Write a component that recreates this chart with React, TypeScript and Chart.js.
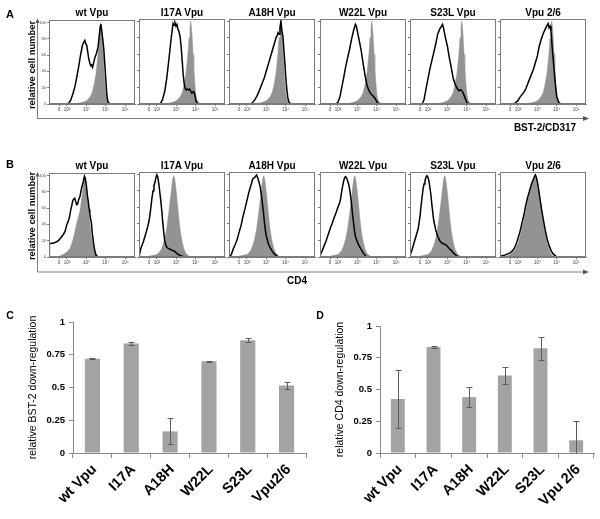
import React, { useEffect, useRef } from 'react';
import { Chart, registerables } from 'chart.js';
Chart.register(...registerables);

const FONT = "'Liberation Sans', Arial, Helvetica, sans-serif";

// ---------- Histogram panels (A: BST-2/CD317, B: CD4) ----------
const panelTitles = ['wt Vpu', 'I17A Vpu', 'A18H Vpu', 'W22L Vpu', 'S23L Vpu', 'Vpu 2/6'];
// x position in decades of fluorescence (biexponential display); "0" sits at 1.6
const histTickValues = [1.6, 2, 3, 4, 5];
const histTickLabels = ['0', '10²', '10³', '10⁴', '10⁵'];
const countTicks = [0, 20, 40, 60, 80, 100];

// Row A: control (gray, filled)
const grayA = [[2.4,0],[2.6,1],[2.8,2],[3.0,4],[3.1,6],[3.2,9],[3.3,14],[3.4,24],[3.5,38],[3.6,62],[3.65,80],[3.7,93],[3.74,100],[3.78,92],[3.82,78],[3.86,60],[3.9,44],[3.95,26],[4.0,12],[4.05,6],[4.1,3],[4.2,1],[4.3,0]];
// Row A: Vpu variants (black line)
const blackA_wt = [[1.05,0],[2.0,0],[2.1,1],[2.2,5],[2.3,12],[2.4,20],[2.5,32],[2.6,45],[2.7,60],[2.8,72],[2.87,76],[2.92,78],[2.97,74],[3.02,72],[3.07,64],[3.12,56],[3.18,50],[3.22,47],[3.27,48],[3.32,45],[3.37,50],[3.45,58],[3.52,62],[3.6,70],[3.67,85],[3.72,96],[3.75,98],[3.8,88],[3.85,78],[3.9,66],[3.95,48],[4.0,30],[4.05,12],[4.1,3],[4.2,0],[5.55,0]];
const blackA_i17a = [[1.05,0],[2.1,0],[2.2,1],[2.3,6],[2.4,15],[2.5,30],[2.6,50],[2.7,72],[2.78,88],[2.83,97],[2.88,95],[2.93,98],[2.98,94],[3.03,96],[3.08,90],[3.13,88],[3.2,80],[3.25,68],[3.3,52],[3.35,36],[3.4,25],[3.45,19],[3.5,17],[3.56,18],[3.62,17],[3.68,18],[3.75,15],[3.8,13],[3.87,15],[3.92,14],[3.97,8],[4.02,3],[4.1,0],[5.55,0]];
const blackA_a18h = [[1.05,0],[2.2,0],[2.3,2],[2.4,5],[2.5,9],[2.6,14],[2.7,20],[2.8,26],[2.9,32],[3.0,40],[3.1,48],[3.2,56],[3.3,64],[3.4,72],[3.5,80],[3.55,82],[3.6,86],[3.65,84],[3.7,92],[3.75,100],[3.8,88],[3.85,82],[3.9,66],[3.95,50],[4.0,32],[4.05,18],[4.1,8],[4.15,3],[4.25,0],[5.55,0]];
const blackA_w22l = [[1.05,0],[1.9,0],[2.0,2],[2.1,8],[2.2,20],[2.3,32],[2.4,45],[2.5,56],[2.6,66],[2.7,78],[2.8,88],[2.85,92],[2.9,96],[2.95,94],[3.0,88],[3.05,82],[3.1,76],[3.2,64],[3.3,48],[3.4,34],[3.5,22],[3.6,16],[3.7,12],[3.8,10],[3.9,7],[4.0,3],[4.1,0],[5.55,0]];
const blackA_s23l = [[1.05,0],[1.7,0],[1.8,5],[1.9,18],[2.0,30],[2.1,42],[2.2,52],[2.3,62],[2.4,72],[2.5,84],[2.6,90],[2.7,94],[2.75,96],[2.8,92],[2.9,80],[3.0,70],[3.1,56],[3.2,44],[3.3,31],[3.4,24],[3.5,19],[3.6,16],[3.7,17],[3.8,14],[3.9,8],[4.0,2],[4.1,0],[5.55,0]];
const blackA_26 = [[1.05,0],[1.8,0],[2.0,4],[2.1,8],[2.2,11],[2.3,14],[2.4,18],[2.5,24],[2.6,30],[2.7,36],[2.8,42],[2.9,50],[3.0,58],[3.1,70],[3.2,78],[3.3,85],[3.4,90],[3.5,95],[3.55,97],[3.6,92],[3.65,94],[3.7,88],[3.75,72],[3.8,58],[3.85,44],[3.9,30],[3.95,18],[4.0,8],[4.1,2],[4.2,0],[5.55,0]];

// Row B: controls (gray, filled)
const grayB_wt = [[1.6,1],[1.8,3],[2.0,6],[2.15,10],[2.3,20],[2.4,30],[2.5,41],[2.6,50],[2.67,56],[2.75,70],[2.85,88],[2.92,100],[3.0,86],[3.1,64],[3.18,42],[3.26,26],[3.35,14],[3.45,6],[3.53,3],[3.65,0]];
const grayB = [[1.6,1],[1.8,2],[2.0,3],[2.1,5],[2.2,8],[2.3,14],[2.4,22],[2.5,34],[2.6,52],[2.7,72],[2.75,82],[2.8,92],[2.85,98],[2.9,96],[2.95,88],[3.0,78],[3.05,66],[3.1,54],[3.15,42],[3.2,32],[3.3,18],[3.4,9],[3.5,4],[3.6,2],[3.7,0]];
const grayB_26 = [[1.4,1],[1.6,3],[1.8,7],[2.0,16],[2.1,24],[2.2,34],[2.3,44],[2.4,56],[2.5,68],[2.6,78],[2.7,86],[2.8,93],[2.9,100],[2.95,97],[3.0,90],[3.1,74],[3.2,58],[3.3,42],[3.4,28],[3.5,17],[3.6,9],[3.7,4],[3.8,1],[3.9,0]];
// Row B: Vpu variants (black line)
const blackB_wt = [[1.08,2],[1.1,16],[1.2,17],[1.3,17],[1.4,18],[1.5,19],[1.6,21],[1.7,24],[1.8,27],[1.9,31],[2.0,40],[2.1,46],[2.15,51],[2.2,58],[2.25,63],[2.3,69],[2.35,71],[2.4,72],[2.45,68],[2.5,64],[2.55,65],[2.6,70],[2.67,74],[2.75,84],[2.84,92],[2.9,99],[2.95,96],[3.0,88],[3.05,76],[3.1,68],[3.15,58],[3.18,53],[3.22,46],[3.26,42],[3.3,30],[3.35,21],[3.4,12],[3.45,6],[3.5,2],[3.6,0],[5.55,0]];
const blackB_i17a = [[1.08,0],[1.1,2],[1.15,8],[1.2,12],[1.3,18],[1.4,26],[1.5,34],[1.6,44],[1.65,52],[1.7,62],[1.75,72],[1.8,80],[1.85,86],[1.9,90],[1.95,96],[2.0,99],[2.05,96],[2.1,88],[2.15,78],[2.2,68],[2.25,56],[2.3,42],[2.35,30],[2.4,20],[2.45,15],[2.5,12],[2.6,10],[2.7,9],[2.8,8],[2.9,7],[3.0,5],[3.1,3],[3.2,2],[3.3,1],[3.4,0],[5.55,0]];
const blackB_a18h = [[1.08,0],[1.2,3],[1.3,10],[1.4,15],[1.5,21],[1.6,30],[1.7,38],[1.8,49],[1.9,58],[2.0,68],[2.1,78],[2.2,86],[2.3,94],[2.4,96],[2.5,99],[2.55,96],[2.6,92],[2.67,86],[2.75,74],[2.8,64],[2.85,54],[2.9,42],[2.95,32],[3.0,25],[3.1,16],[3.2,11],[3.3,7],[3.4,4],[3.5,2],[3.6,0],[5.55,0]];
const blackB_w22l = [[1.08,0],[1.1,3],[1.2,8],[1.3,14],[1.4,20],[1.5,27],[1.6,34],[1.7,40],[1.8,47],[1.9,53],[2.0,60],[2.1,66],[2.15,72],[2.2,80],[2.25,86],[2.3,92],[2.35,96],[2.4,97],[2.45,95],[2.5,92],[2.55,88],[2.6,82],[2.65,74],[2.7,64],[2.75,52],[2.8,42],[2.85,32],[2.9,25],[3.0,18],[3.1,13],[3.2,9],[3.3,5],[3.4,2],[3.5,0],[5.55,0]];
const blackB_s23l = [[1.08,0],[1.1,3],[1.2,10],[1.3,18],[1.4,26],[1.5,34],[1.6,50],[1.65,62],[1.7,72],[1.75,82],[1.8,88],[1.85,92],[1.9,96],[1.95,98],[2.0,96],[2.05,92],[2.1,84],[2.15,76],[2.2,64],[2.25,54],[2.3,44],[2.4,33],[2.5,25],[2.6,20],[2.7,17],[2.8,16],[2.9,15],[3.0,13],[3.1,10],[3.2,8],[3.3,5],[3.4,3],[3.5,1],[3.6,0],[5.55,0]];
const blackB_26 = [[1.08,0],[1.1,1],[1.3,2],[1.5,4],[1.6,5],[1.7,7],[1.8,10],[1.9,15],[2.0,22],[2.1,30],[2.2,40],[2.3,50],[2.4,62],[2.5,72],[2.6,80],[2.7,88],[2.8,94],[2.85,97],[2.9,99],[2.95,96],[3.0,91],[3.05,84],[3.1,76],[3.2,60],[3.3,46],[3.4,33],[3.5,22],[3.6,14],[3.7,8],[3.8,4],[3.9,2],[4.0,0],[5.55,0]];

const rowAGray = [grayA, grayA, grayA, grayA, grayA, grayA];
const rowABlack = [blackA_wt, blackA_i17a, blackA_a18h, blackA_w22l, blackA_s23l, blackA_26];
const rowBGray = [grayB_wt, grayB, grayB, grayB, grayB, grayB_26];
const rowBBlack = [blackB_wt, blackB_i17a, blackB_a18h, blackB_w22l, blackB_s23l, blackB_26];

// ---------- Bar panels (C, D) ----------
const bstCategories = ['wt Vpu', 'I17A', 'A18H', 'W22L', 'S23L', 'Vpu2/6'];
const bstValues = [0.72, 0.835, 0.165, 0.70, 0.86, 0.515];
const bstErrors = [0.005, 0.012, 0.1, 0.004, 0.015, 0.03];
const cd4Categories = ['wt Vpu', 'I17A', 'A18H', 'W22L', 'S23L', 'Vpu 2/6'];
const cd4Values = [0.425, 0.835, 0.44, 0.61, 0.825, 0.10];
const cd4Errors = [0.225, 0.01, 0.08, 0.07, 0.09, 0.155];
const barTicks = [0, 0.25, 0.5, 0.75, 1];

// ---------- layout ----------
const boxLefts = [49, 139, 229, 320, 410, 500];
const BOX_W = 86;
const BOX_H = 85;
const rowTops = [19, 172];

const boxPlugin = {
  id: 'box',
  afterDraw(chart: any) {
    const { ctx, chartArea: a } = chart;
    ctx.save();
    ctx.strokeStyle = '#7c7c7c';
    ctx.lineWidth = 1;
    ctx.strokeRect(Math.round(a.left) + 0.5, Math.round(a.top) + 0.5, Math.round(a.right - a.left) - 1, Math.round(a.bottom - a.top) - 1);
    ctx.restore();
  },
};

function histConfig(gray: number[][], black: number[][], showY: boolean) {
  const pts = (arr: number[][]) => arr.map(([x, y]) => ({ x, y }));
  return {
    type: 'line',
    data: {
      datasets: [
        { data: pts(black), borderColor: '#000', borderWidth: 1.5, pointRadius: 0, fill: false, order: 0, tension: 0 },
        { data: pts(gray), borderColor: '#959595', borderWidth: 0.5, backgroundColor: '#939393', pointRadius: 0, fill: 'origin', order: 1, tension: 0 },
      ],
    },
    options: {
      responsive: false,
      animation: false,
      events: [],
      layout: { padding: { top: 2, right: 3, left: 0, bottom: 0 } },
      plugins: { legend: { display: false }, tooltip: { enabled: false } },
      scales: {
        x: {
          type: 'linear',
          min: 1.08,
          max: 5.5,
          afterBuildTicks: (s: any) => { s.ticks = histTickValues.map((v) => ({ value: v })); },
          afterFit: (s: any) => { s.height = 11; },
          ticks: {
            callback: (v: number) => { const i = histTickValues.indexOf(v); return i >= 0 ? histTickLabels[i] : ''; },
            font: { size: 4.5, family: FONT },
            color: '#444',
            padding: 1,
            maxRotation: 0,
            autoSkip: false,
          },
          grid: { drawOnChartArea: false, tickLength: 2, color: '#777' },
          border: { color: '#7c7c7c' },
        },
        y: {
          min: 0,
          max: 102.5,
          afterBuildTicks: (s: any) => { s.ticks = countTicks.map((v) => ({ value: v })); },
          afterFit: (s: any) => { s.width = 12; },
          ticks: { display: showY, font: { size: 4, family: FONT }, color: '#444', padding: 1 },
          grid: { drawOnChartArea: false, tickLength: 2, color: '#777' },
          border: { color: '#7c7c7c' },
        },
      },
    },
    plugins: [boxPlugin],
  };
}

function errorBarPlugin(errs: number[]) {
  return {
    id: 'errorBars',
    afterDatasetsDraw(chart: any) {
      const { ctx } = chart;
      const y = chart.scales.y;
      const meta = chart.getDatasetMeta(0);
      const vals = chart.data.datasets[0].data as number[];
      ctx.save();
      ctx.strokeStyle = '#5c5c5c';
      ctx.lineWidth = 1;
      meta.data.forEach((bar: any, i: number) => {
        const x = Math.round(bar.x) + 0.5;
        const top = Math.round(y.getPixelForValue(vals[i] + errs[i])) + 0.5;
        const lowVal = vals[i] - errs[i];
        const bot = Math.round(y.getPixelForValue(Math.max(0, lowVal))) + 0.5;
        ctx.beginPath();
        ctx.moveTo(x, top); ctx.lineTo(x, bot);
        ctx.moveTo(x - 3, top); ctx.lineTo(x + 3, top);
        if (lowVal > 0) { ctx.moveTo(x - 3, bot); ctx.lineTo(x + 3, bot); }
        ctx.stroke();
      });
      ctx.restore();
    },
  };
}

function barConfig(cats: string[], vals: number[], errs: number[], title: string, pad: { left: number; top: number; right: number }, yWidth: number) {
  return {
    type: 'bar',
    data: {
      labels: cats,
      datasets: [{ data: vals, backgroundColor: '#a3a3a3', borderWidth: 0, categoryPercentage: 1, barPercentage: 0.39 }],
    },
    options: {
      responsive: false,
      animation: false,
      events: [],
      layout: { padding: { left: pad.left, top: pad.top, right: pad.right, bottom: 0 } },
      plugins: { legend: { display: false }, tooltip: { enabled: false } },
      scales: {
        x: {
          afterFit: (s: any) => { s.height = 66; },
          grid: { offset: true, drawOnChartArea: false, tickLength: 5, color: '#8a8a8a' },
          border: { color: '#8a8a8a' },
          ticks: { minRotation: 45, maxRotation: 45, autoSkip: false, font: { size: 14.5, weight: 'bold', family: FONT }, color: '#000', padding: 3, labelOffset: 2 },
        },
        y: {
          min: 0,
          max: 1,
          afterBuildTicks: (s: any) => { s.ticks = barTicks.map((v) => ({ value: v })); },
          afterFit: (s: any) => { s.width = yWidth; },
          ticks: { font: { size: 9.5, weight: 'bold', family: FONT }, color: '#000', padding: 4, callback: (v: number) => String(v) },
          grid: { drawOnChartArea: false, tickLength: 4, color: '#8a8a8a' },
          border: { color: '#8a8a8a' },
          title: { display: true, text: title, font: { size: 10.5, family: FONT }, color: '#000', padding: { top: 4, bottom: 4 } },
        },
      },
    },
    plugins: [errorBarPlugin(errs)],
  };
}

function ChartCanvas({ x, y, w, h, make }: { x: number; y: number; w: number; h: number; make: () => any }) {
  const ref = useRef<HTMLCanvasElement | null>(null);
  useEffect(() => {
    if (!ref.current) return;
    const c = new Chart(ref.current, make());
    return () => c.destroy();
  }, []);
  return <canvas ref={ref} width={w} height={h} style={{ position: 'absolute', left: x, top: y, width: w, height: h }} />;
}

function Label({ cx, cy, text, size, bold, rotate }: { cx: number; cy: number; text: string; size: number; bold?: boolean; rotate?: boolean }) {
  return (
    <div
      style={{
        position: 'absolute', left: cx, top: cy,
        transform: `translate(-50%, -50%)${rotate ? ' rotate(-90deg)' : ''}`,
        fontFamily: FONT, fontSize: size, fontWeight: bold ? 700 : 400, lineHeight: 1,
        whiteSpace: 'nowrap', color: '#000',
      }}
    >
      {text}
    </div>
  );
}

export default function App() {
  const rows = [
    { gray: rowAGray, black: rowABlack },
    { gray: rowBGray, black: rowBBlack },
  ];
  return (
    <div style={{ position: 'absolute', left: 0, top: 0, width: 600, height: 519, background: '#fff', overflow: 'hidden' }}>
      {rows.map((row, r) =>
        boxLefts.map((bl, i) => (
          <ChartCanvas
            key={`h${r}-${i}`}
            x={bl - 12}
            y={rowTops[r] - 2}
            w={12 + BOX_W + 3}
            h={2 + BOX_H + 11}
            make={() => histConfig(row.gray[i], row.black[i], i === 0)}
          />
        ))
      )}
      {rowTops.map((t, r) =>
        boxLefts.map((bl, i) => (
          <Label key={`t${r}-${i}`} cx={bl + BOX_W / 2} cy={t - 6} text={panelTitles[i]} size={10} bold />
        ))
      )}
      <svg width={600} height={519} style={{ position: 'absolute', left: 0, top: 0 }}>
        {[0, 153.5].map((dy, k) => (
          <g key={k} transform={`translate(0, ${dy})`}>
            <line x1={37.5} y1={22} x2={37.5} y2={118.5} stroke="#808080" strokeWidth={1} />
            <line x1={37.5} y1={118.5} x2={584} y2={118.5} stroke="#808080" strokeWidth={1} />
            <polygon points="583,116 589,118.5 583,121" fill="#555" />
            <polygon points="35.5,23 37.5,18.5 39.5,23" fill="#555" />
          </g>
        ))}
      </svg>
      <Label cx={10} cy={13.7} text="A" size={11} bold />
      <Label cx={10} cy={164} text="B" size={11} bold />
      <Label cx={31.5} cy={65} text="relative cell number" size={9.4} bold rotate />
      <Label cx={31.5} cy={216} text="relative cell number" size={9.4} bold rotate />
      <Label cx={545} cy={128} text="BST-2/CD317" size={10} bold />
      <Label cx={297} cy={281} text="CD4" size={10} bold />
      <Label cx={10} cy={315} text="C" size={10.5} bold />
      <Label cx={320} cy={315} text="D" size={10.5} bold />
      <ChartCanvas x={0} y={300} w={312} h={219}
        make={() => barConfig(bstCategories, bstValues, bstErrors, 'relative BST-2 down-regulation', { left: 23, top: 22, right: 6 }, 50)} />
      <ChartCanvas x={300} y={300} w={300} h={219}
        make={() => barConfig(cd4Categories, cd4Values, cd4Errors, 'relative CD4 down-regulation', { left: 30, top: 26, right: 6 }, 50)} />
    </div>
  );
}
